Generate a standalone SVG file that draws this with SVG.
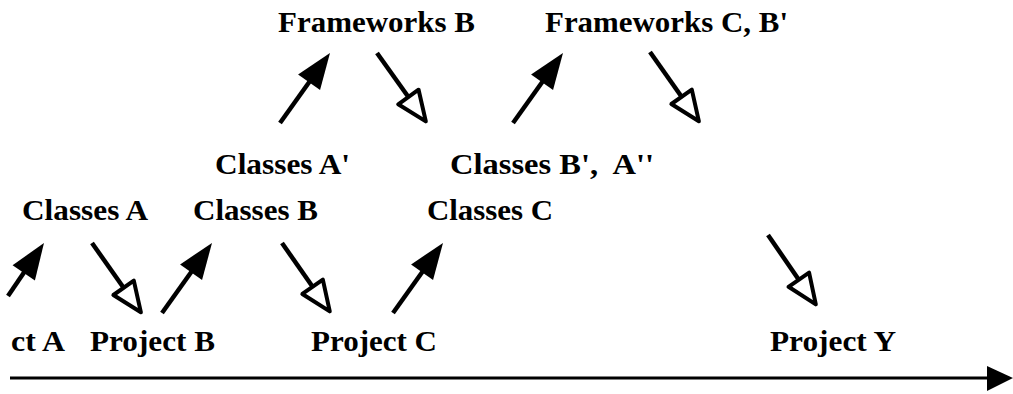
<svg xmlns="http://www.w3.org/2000/svg" width="1013" height="394" viewBox="0 0 1013 394">
  <style>
    text { font-family: "Liberation Serif", "Times New Roman", serif; font-weight: bold; font-size: 29px; fill: #000; }
    .link { stroke: #000; stroke-width: 4.5; fill: none; }
    .axis { stroke: #000; stroke-width: 3; fill: none; }
  </style>
  <defs>
    <!-- solid head: origin sits at the end of the shaft, tip 32 units ahead -->
    <marker id="solid" markerUnits="userSpaceOnUse" orient="auto" refX="0" refY="0" markerWidth="1" markerHeight="1" overflow="visible">
      <path d="M-4,-13.5 L32,0 L-4,13.5 Z" fill="#000"/>
    </marker>
    <!-- hollow head: base centred on the end of the shaft -->
    <marker id="hollow" markerUnits="userSpaceOnUse" orient="auto" refX="0" refY="0" markerWidth="1" markerHeight="1" overflow="visible">
      <path d="M0,-12.5 L30,0 L0,12.5 Z" fill="#fff" stroke="#000" stroke-width="4" stroke-linejoin="round"/>
    </marker>
  </defs>

  <rect width="1013" height="394" fill="#fff"/>

  <g id="connectors">
    <line class="link" x1="8" y1="296" x2="26" y2="269.5" marker-end="url(#solid)"/>
    <line class="link" x1="92" y1="243" x2="123.6" y2="287.8" marker-end="url(#hollow)"/>
    <line class="link" x1="162" y1="313" x2="193.4" y2="269" marker-end="url(#solid)"/>
    <line class="link" x1="282" y1="243" x2="312.6" y2="286.8" marker-end="url(#hollow)"/>
    <line class="link" x1="393" y1="313" x2="424.4" y2="269" marker-end="url(#solid)"/>
    <line class="link" x1="280" y1="123" x2="311.4" y2="79" marker-end="url(#solid)"/>
    <line class="link" x1="377" y1="53" x2="408.4" y2="97" marker-end="url(#hollow)"/>
    <line class="link" x1="513" y1="123" x2="544.4" y2="79" marker-end="url(#solid)"/>
    <line class="link" x1="650" y1="52" x2="681.6" y2="96.8" marker-end="url(#hollow)"/>
    <line class="link" x1="768" y1="235" x2="798.8" y2="279.7" marker-end="url(#hollow)"/>
  </g>

  <g id="timeline">
    <line class="axis" x1="10" y1="378" x2="990" y2="378"/>
    <polygon points="987,366 1013,378 987,391" fill="#000"/>
  </g>

  <g id="frameworks-b"><text x="278" y="32" textLength="197" lengthAdjust="spacingAndGlyphs">Frameworks B</text></g>
  <g id="frameworks-cb"><text x="545" y="32" textLength="243" lengthAdjust="spacingAndGlyphs">Frameworks C, B'</text></g>
  <g id="classes-a1"><text x="215" y="174" textLength="135" lengthAdjust="spacingAndGlyphs">Classes A'</text></g>
  <g id="classes-b1a2"><text x="450" y="174" textLength="204" lengthAdjust="spacingAndGlyphs" xml:space="preserve">Classes B',  A''</text></g>
  <g id="classes-a"><text x="22" y="220" textLength="126" lengthAdjust="spacingAndGlyphs">Classes A</text></g>
  <g id="classes-b"><text x="193" y="220" textLength="125" lengthAdjust="spacingAndGlyphs">Classes B</text></g>
  <g id="classes-c"><text x="427" y="220" textLength="126" lengthAdjust="spacingAndGlyphs">Classes C</text></g>
  <g id="project-a"><text x="11" y="351" textLength="54" lengthAdjust="spacingAndGlyphs">ct A</text></g>
  <g id="project-b"><text x="90" y="351" textLength="125" lengthAdjust="spacingAndGlyphs">Project B</text></g>
  <g id="project-c"><text x="311" y="351" textLength="126" lengthAdjust="spacingAndGlyphs">Project C</text></g>
  <g id="project-y"><text x="770" y="351" textLength="126" lengthAdjust="spacingAndGlyphs">Project Y</text></g>
</svg>
